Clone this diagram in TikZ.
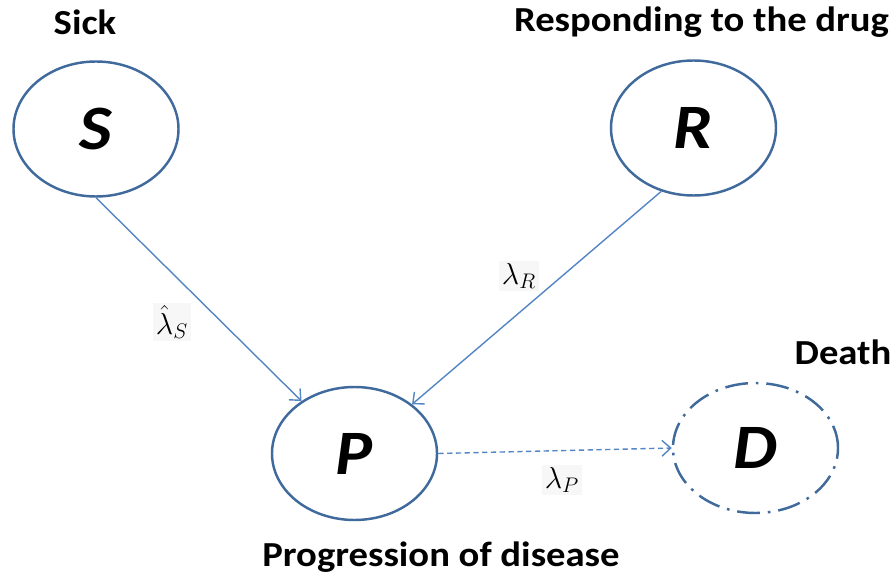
\documentclass[tikz,border=0pt]{standalone}
\usepackage{amsmath}
\usepackage{fontspec}
\setsansfont{Carlito}[FakeStretch=1.1]
\usepackage{tikz}
\usetikzlibrary{positioning, arrows.meta, shapes.geometric}
\definecolor{stateblue}{RGB}{64, 106, 156}
\definecolor{flowblue}{RGB}{84, 134, 196}

\begin{document}
\begin{tikzpicture}[>={Straight Barb[length=5pt, width=9pt]},
    state/.style={ellipse, draw=stateblue, line width=1.4pt, minimum width=3.3cm, minimum height=2.7cm,
        font=\sffamily\bfseries\itshape\fontsize{36}{40}\selectfont},
    heading/.style={font=\sffamily\bfseries\fontsize{20}{22}\selectfont},
    flow/.style={->, flowblue, line width=0.8pt},
    rate/.style={fill=black!3, inner sep=1.5pt, font=\fontsize{17}{19}\selectfont}]
\useasboundingbox (0,0) rectangle (17.92,11.54);
% states
\node[state] (S) at (1.92, 8.96) {S};
\node[state] (R) at (13.87, 8.98) {R};
\node[state, minimum height=2.66cm] (P) at (7.09, 2.47) {P};
\node[state, minimum height=2.6cm, dash pattern=on 13pt off 4.5pt on 1.5pt off 4.5pt] (D) at (15.11, 2.58) {D};
% headings
\node[heading] (sick) at (1.70, 11.10) {Sick};
\node[heading] (resp) at (14.03, 11.10) {Responding to the drug};
\node[heading] (death) at (16.86, 4.50) {Death};
\node[heading] (prog) at (8.82, 0.40) {Progression of disease};
% transitions
\draw[flow] (S.south) -- (P);
\draw[flow] (R.243) -- (P);
\draw[flow, dash pattern=on 3pt off 2pt] (P.east) -- (D.west);
\node[rate] (lS) at (3.44, 5.10) {$\hat{\lambda}_S$};
\node[rate] (lR) at (10.38, 6.02) {$\lambda_R$};
\node[rate] (lP) at (11.24, 1.94) {$\lambda_P$};
\end{tikzpicture}
\end{document}
